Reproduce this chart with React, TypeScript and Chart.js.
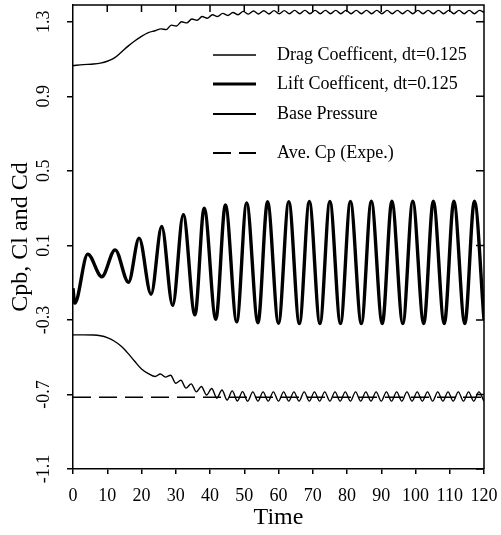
import React, { useEffect, useRef } from "react";
import { Chart, registerables } from "chart.js";

Chart.register(...registerables);

const FONT = "'Liberation Serif', 'Times New Roman', serif";

const xTicks = [0, 10, 20, 30, 40, 50, 60, 70, 80, 90, 100, 110, 120];
const yTicks = [-1.1, -0.7, -0.3, 0.1, 0.5, 0.9, 1.3];

const seriesLabels = [
  "Drag Coefficent, dt=0.125",
  "Lift Coefficent, dt=0.125",
  "Base Pressure",
  "Ave. Cp (Expe.)",
];

const dragTime = [
  0, 3, 6, 8, 10, 12, 14, 16, 18, 20, 22, 24,
  25.7, 27.2, 28.7, 30.2, 31.7, 33.2, 34.7, 36.2, 37.7, 39.2, 40.7, 42.2,
  43.7, 45.2, 46.7, 48.2, 49.7, 51.2, 52.7, 54.2, 55.7, 57.2, 58.7, 60.2,
  61.7, 63.2, 64.7, 66.2, 67.7, 69.2, 70.7, 72.2, 73.7, 75.2, 76.7, 78.2,
  79.7, 81.2, 82.7, 84.2, 85.7, 87.2, 88.7, 90.2, 91.7, 93.2, 94.7, 96.2,
  97.7, 99.2, 100.7, 102.2, 103.7, 105.2, 106.7, 108.2, 109.7, 111.2, 112.7, 114.2,
  115.7, 117.2, 118.7, 120,
];
const dragValue = [
  1.065, 1.07, 1.073, 1.078, 1.088, 1.105, 1.135, 1.168, 1.197, 1.222, 1.242, 1.252,
  1.262, 1.258, 1.282, 1.277, 1.3, 1.294, 1.315, 1.308, 1.328, 1.319, 1.338, 1.328,
  1.345, 1.334, 1.35, 1.338, 1.356, 1.341, 1.358, 1.342, 1.359, 1.342, 1.36, 1.343,
  1.36, 1.343, 1.361, 1.343, 1.361, 1.343, 1.361, 1.343, 1.361, 1.343, 1.361, 1.343,
  1.361, 1.343, 1.361, 1.343, 1.361, 1.343, 1.361, 1.343, 1.361, 1.343, 1.361, 1.343,
  1.361, 1.343, 1.361, 1.343, 1.361, 1.343, 1.361, 1.343, 1.361, 1.343, 1.361, 1.343,
  1.361, 1.343, 1.361, 1.35,
];

const liftTime = [
  0, 0.5, 4.3, 8.4, 12.3, 16.2, 19.3, 22.8, 25.9, 29.1, 32.2, 35.6, 38.3, 41.7,
  44.5, 47.8, 50.7, 54.0, 56.8, 60.0, 63.0, 66.1, 69.0, 72.1, 75.0, 78.1, 81.0,
  84.2, 87.1, 90.3, 93.1, 96.3, 99.2, 102.4, 105.2, 108.4, 111.2, 114.4, 117.2, 120,
];
const liftValue = [
  -0.13, -0.21, 0.053, -0.068, 0.076, -0.098, 0.139, -0.162, 0.201, -0.222, 0.264,
  -0.273, 0.3, -0.296, 0.317, -0.31, 0.328, -0.315, 0.334, -0.318, 0.335, -0.32,
  0.336, -0.32, 0.336, -0.32, 0.336, -0.32, 0.337, -0.32, 0.337, -0.32, 0.337,
  -0.32, 0.337, -0.32, 0.337, -0.32, 0.337, -0.3,
];

const baseTime = [
  0, 3, 6, 8, 10, 12, 14, 16, 18, 20, 22,
  24, 25.5, 27, 28.5, 30, 31.5, 33, 34.5, 36, 37.5, 39, 40.5, 42, 43.5, 45, 46.5,
  48, 49.5, 51, 52.5, 54, 55.5, 57, 58.5, 60, 61.5, 63, 64.5, 66, 67.5, 69, 70.5,
  72, 73.5, 75, 76.5, 78, 79.5, 81, 82.5, 84, 85.5, 87, 88.5, 90, 91.5, 93, 94.5,
  96, 97.5, 99, 100.5, 102, 103.5, 105, 106.5, 108, 109.5, 111, 112.5, 114, 115.5,
  117, 118.5, 120,
];
const baseValue = [
  -0.38, -0.38, -0.381, -0.385, -0.395, -0.413, -0.44, -0.478, -0.522, -0.563, -0.588,
  -0.604, -0.59, -0.607, -0.597, -0.64, -0.624, -0.666, -0.643, -0.686, -0.657, -0.703,
  -0.668, -0.72, -0.676, -0.73, -0.681, -0.735, -0.685, -0.736, -0.686, -0.736, -0.686,
  -0.736, -0.686, -0.736, -0.686, -0.736, -0.686, -0.736, -0.686, -0.736, -0.686,
  -0.736, -0.686, -0.736, -0.686, -0.736, -0.686, -0.736, -0.686, -0.736, -0.686,
  -0.736, -0.686, -0.736, -0.686, -0.736, -0.686, -0.736, -0.686, -0.736, -0.686,
  -0.736, -0.686, -0.736, -0.686, -0.736, -0.686, -0.736, -0.686, -0.736, -0.686,
  -0.736, -0.686, -0.736,
];

const aveCpTime = [0, 120];
const aveCpValue = [-0.715, -0.715];

const toPoints = (xs: number[], ys: number[]) => xs.map((x, i) => ({ x, y: ys[i] }));

const legendRows = [55, 84, 114, 153];

const framePlugin = {
  id: "frameAndLegend",
  afterDatasetsDraw(chart: any) {
    const { ctx, chartArea, scales } = chart;
    const { left, right, top, bottom } = chartArea;
    ctx.save();
    ctx.strokeStyle = "#000";
    ctx.lineWidth = 1.5;
    ctx.beginPath();
    ctx.moveTo(left, top);
    ctx.lineTo(right, top);
    ctx.lineTo(right, bottom);
    ctx.stroke();
    ctx.beginPath();
    xTicks.forEach((v) => {
      if (v === xTicks[0] || v === xTicks[xTicks.length - 1]) return;
      const px = scales.x.getPixelForValue(v);
      ctx.moveTo(px, top);
      ctx.lineTo(px, top + 7);
    });
    yTicks.forEach((v) => {
      const py = scales.y.getPixelForValue(v);
      ctx.moveTo(right, py);
      ctx.lineTo(right - 8, py);
    });
    ctx.stroke();

    // legend
    chart.data.datasets.forEach((ds: any, i: number) => {
      const y = legendRows[i];
      ctx.beginPath();
      ctx.lineWidth = ds.legendWidth;
      ctx.setLineDash(ds.borderDash || []);
      ctx.moveTo(213, y);
      ctx.lineTo(256, y);
      ctx.stroke();
      ctx.setLineDash([]);
      ctx.fillStyle = "#000";
      ctx.font = `18px ${FONT}`;
      ctx.textBaseline = "middle";
      ctx.textAlign = "left";
      ctx.fillText(ds.label, 277, y);
    });
    ctx.restore();
  },
};

export default function App() {
  const canvasRef = useRef<HTMLCanvasElement | null>(null);

  useEffect(() => {
    const canvas = canvasRef.current;
    if (!canvas) return;
    const chart = new Chart(canvas, {
      type: "line",
      data: {
        datasets: [
          {
            label: seriesLabels[0],
            data: toPoints(dragTime, dragValue),
            borderColor: "#000",
            borderWidth: 1.4,
            legendWidth: 1.4,
            pointRadius: 0,
            cubicInterpolationMode: "monotone",
          } as any,
          {
            label: seriesLabels[1],
            data: toPoints(liftTime, liftValue),
            borderColor: "#000",
            borderWidth: 3.4,
            legendWidth: 3,
            pointRadius: 0,
            cubicInterpolationMode: "monotone",
          } as any,
          {
            label: seriesLabels[2],
            data: toPoints(baseTime, baseValue),
            borderColor: "#000",
            borderWidth: 1.4,
            legendWidth: 2,
            pointRadius: 0,
            cubicInterpolationMode: "monotone",
          } as any,
          {
            label: seriesLabels[3],
            data: toPoints(aveCpTime, aveCpValue),
            borderColor: "#000",
            borderWidth: 1.6,
            legendWidth: 2,
            borderDash: [18, 8],
            pointRadius: 0,
          } as any,
        ],
      },
      options: {
        responsive: false,
        animation: false,
        events: [],
        layout: { padding: { left: 0, right: 17, top: 5, bottom: 0 } },
        plugins: {
          legend: { display: false },
          tooltip: { enabled: false },
        },
        scales: {
          x: {
            type: "linear",
            position: "bottom",
            min: 0,
            max: 120,
            afterBuildTicks: (scale: any) => {
              scale.ticks = xTicks.map((v) => ({ value: v }));
            },
            afterFit: (scale: any) => {
              scale.height = 66;
              scale.paddingLeft = 0;
              scale.paddingRight = 0;
            },
            ticks: {
              autoSkip: false,
              maxRotation: 0,
              minRotation: 0,
              color: "#000",
              padding: 11,
              font: { family: FONT, size: 18 },
            },
            grid: {
              display: true,
              drawOnChartArea: false,
              drawTicks: true,
              tickLength: 5,
              color: "#000",
              lineWidth: 1.5,
            },
            border: { display: true, color: "#000", width: 1.5 },
            title: {
              display: true,
              text: "Time",
              color: "#000",
              font: { family: FONT, size: 24 },
              padding: { top: 0, bottom: 3 },
            },
          },
          y: {
            type: "linear",
            position: "left",
            min: -1.1,
            max: 1.39,
            afterBuildTicks: (scale: any) => {
              scale.ticks = yTicks.map((v) => ({ value: v }));
            },
            afterFit: (scale: any) => {
              scale.width = 73;
              scale.paddingTop = 0;
              scale.paddingBottom = 0;
            },
            ticks: {
              autoSkip: false,
              minRotation: 90,
              maxRotation: 90,
              crossAlign: "center",
              color: "#000",
              padding: 8,
              font: { family: FONT, size: 18 },
              callback: (v: any) => Number(v).toFixed(1),
            },
            grid: {
              display: true,
              drawOnChartArea: false,
              drawTicks: true,
              tickLength: 6,
              color: "#000",
              lineWidth: 1.5,
            },
            border: { display: true, color: "#000", width: 1.5 },
            title: {
              display: true,
              text: "Cpb, Cl and Cd",
              color: "#000",
              font: { family: FONT, size: 24 },
              padding: { top: 6, bottom: 0 },
            },
          },
        },
      },
      plugins: [framePlugin],
    } as any);
    return () => chart.destroy();
  }, []);

  return (
    <div style={{ position: "absolute", left: 0, top: 0, width: 501, height: 535, background: "#fff" }}>
      <canvas ref={canvasRef} width={501} height={535} style={{ width: 501, height: 535, display: "block" }} />
    </div>
  );
}
